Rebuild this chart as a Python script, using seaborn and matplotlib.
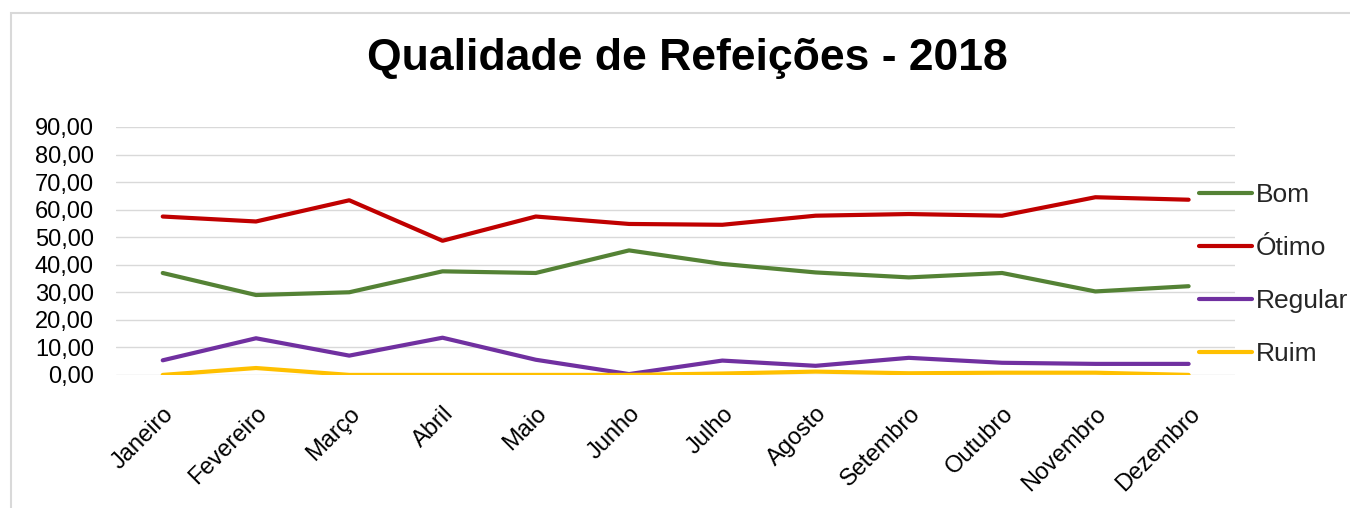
import pandas as pd
import matplotlib.pyplot as plt
import seaborn as sns
from matplotlib.patches import Rectangle
from matplotlib.ticker import FuncFormatter

sns.set_theme(style="white")
plt.rcParams['font.family'] = ['Liberation Sans', 'DejaVu Sans']

# Data
meses = ["Janeiro", "Fevereiro", "Março", "Abril", "Maio", "Junho",
         "Julho", "Agosto", "Setembro", "Outubro", "Novembro", "Dezembro"]
bom = [37.0, 29.0, 30.0, 37.6, 37.0, 45.2, 40.3, 37.2, 35.4, 37.0, 30.3, 32.2]
otimo = [57.5, 55.7, 63.4, 48.7, 57.5, 54.8, 54.5, 57.8, 58.4, 57.8, 64.5, 63.6]
regular = [5.3, 13.3, 7.0, 13.5, 5.5, 0.3, 5.2, 3.3, 6.2, 4.4, 4.0, 4.0]
ruim = [0.0, 2.5, 0.0, 0.0, 0.0, 0.0, 0.5, 1.2, 0.6, 0.8, 0.8, 0.0]

series = ["Bom", "Ótimo", "Regular", "Ruim"]
cores = ["#548235", "#C00000", "#7030A0", "#FFC000"]

df = pd.DataFrame({"Mês": meses, "Bom": bom, "Ótimo": otimo,
                   "Regular": regular, "Ruim": ruim})
long_df = df.melt(id_vars="Mês", var_name="Qualidade", value_name="Valor")

fig = plt.figure(figsize=(13.5, 5.08), dpi=100)
ax = fig.add_axes([0.086, 0.262, 0.829, 0.488])

sns.lineplot(data=long_df, x="Mês", y="Valor", hue="Qualidade",
             hue_order=series, palette=cores, linewidth=3, sort=False, ax=ax)

ax.set_ylim(0, 90)
ax.set_xlim(-0.5, len(meses) - 0.5)
ax.set_yticks(range(0, 91, 10))
ax.yaxis.set_major_formatter(FuncFormatter(lambda v, p: f"{v:.2f}".replace(".", ",")))
ax.grid(axis='y', color='#d9d9d9', linewidth=1)
ax.set_axisbelow(True)
for s in ax.spines.values():
    s.set_visible(False)
ax.set_xlabel("")
ax.set_ylabel("")
ax.tick_params(axis='y', labelsize=17, length=0, pad=16)
ax.tick_params(axis='x', labelsize=17, length=0, pad=20)
plt.setp(ax.get_xticklabels(), rotation=45, ha='right', rotation_mode='anchor')
for lbl in ax.get_yticklabels() + ax.get_xticklabels():
    lbl.set_color('black')

ax.legend_.remove()
handles, labels = ax.get_legend_handles_labels()
leg = fig.legend(handles, labels, loc='center left', bbox_to_anchor=(0.8785, 0.46),
                 frameon=False, fontsize=19, handlelength=2.0, handletextpad=0.15,
                 labelspacing=1.1, borderpad=0)
for l in leg.get_lines():
    l.set_linewidth(3)

fig.text(0.509, 0.885, "Qualidade de Refeições - 2018", ha='center', va='center',
         fontsize=32, fontweight='bold', color='black')

fig.patches.append(Rectangle((11 / 1350, -0.1), 1.2, 0.1 + 495 / 508,
                             transform=fig.transFigure, fill=False,
                             edgecolor='#d9d9d9', linewidth=1.5))

plt.savefig("out.png", dpi=100)
plt.close()
